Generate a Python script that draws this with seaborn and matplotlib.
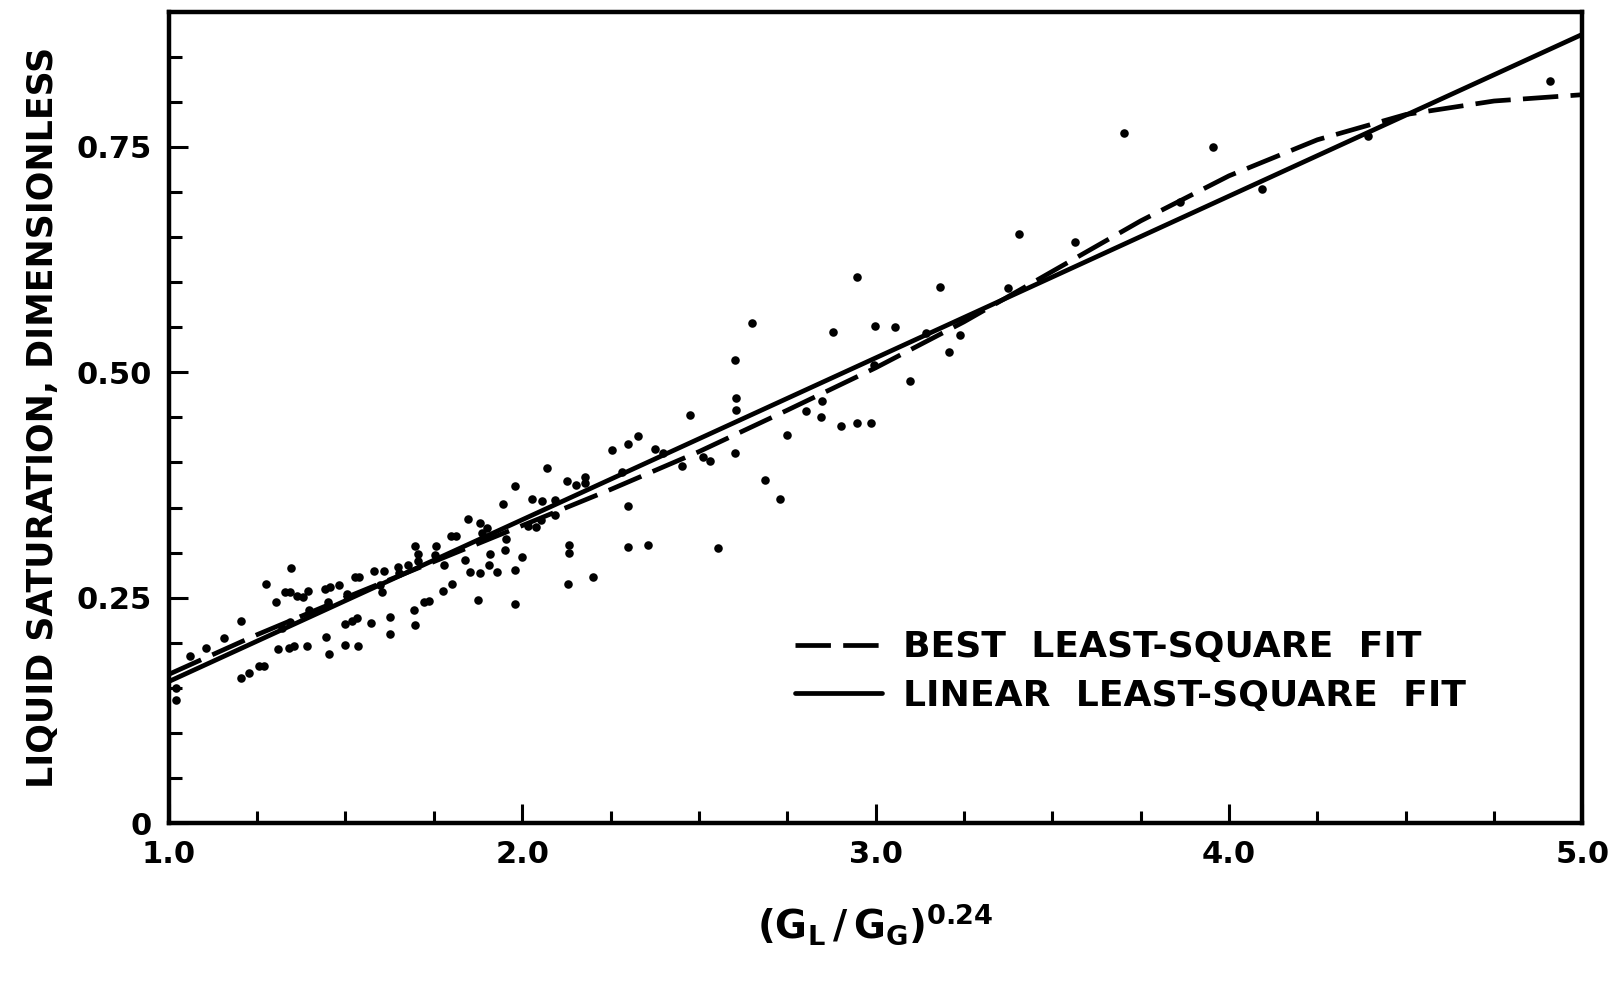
import numpy as np
import pandas as pd
import seaborn as sns
import matplotlib.pyplot as plt

# scattered data
x_points = [1.019, 1.019, 1.059, 1.104, 1.156, 1.203, 1.203, 1.228, 1.255, 1.269,
            1.276, 1.302, 1.309, 1.321, 1.330, 1.340, 1.342, 1.344, 1.346, 1.354,
            1.363, 1.379, 1.390, 1.393, 1.396, 1.443, 1.446, 1.451, 1.453, 1.455,
            1.481, 1.498, 1.498, 1.505, 1.519, 1.528, 1.533, 1.536, 1.538, 1.571,
            1.580, 1.597, 1.602, 1.609, 1.625, 1.626, 1.649, 1.651, 1.677, 1.693,
            1.696, 1.696, 1.705, 1.705, 1.722, 1.736, 1.752, 1.755, 1.776, 1.778,
            1.799, 1.802, 1.814, 1.837, 1.847, 1.851, 1.876, 1.882, 1.882, 1.887,
            1.901, 1.906, 1.909, 1.929, 1.945, 1.950, 1.953, 1.979, 1.979, 1.981,
            2.000, 2.017, 2.028, 2.038, 2.052, 2.057, 2.071, 2.094, 2.094,
            2.127, 2.130, 2.132, 2.132, 2.153, 2.177, 2.177, 2.201, 2.253, 2.283,
            2.299, 2.300, 2.300, 2.328, 2.355, 2.376, 2.399, 2.453, 2.476, 2.511,
            2.531, 2.553, 2.601, 2.602, 2.606, 2.606, 2.651, 2.687, 2.729, 2.748,
            2.804, 2.846, 2.847, 2.880, 2.903, 2.948, 2.948, 2.986, 2.996, 2.998,
            3.054, 3.098, 3.144, 3.182, 3.208, 3.238, 3.376, 3.407, 3.563, 3.704,
            3.861, 3.956, 4.092, 4.392, 4.908]
y_points = [0.150, 0.137, 0.185, 0.194, 0.205, 0.224, 0.161, 0.166, 0.174, 0.174,
            0.265, 0.245, 0.193, 0.216, 0.256, 0.194, 0.256, 0.223, 0.283, 0.196,
            0.252, 0.251, 0.196, 0.257, 0.236, 0.260, 0.206, 0.245, 0.188, 0.262,
            0.264, 0.221, 0.198, 0.254, 0.224, 0.273, 0.227, 0.196, 0.273, 0.222,
            0.280, 0.264, 0.256, 0.280, 0.229, 0.210, 0.284, 0.277, 0.286, 0.236,
            0.307, 0.220, 0.299, 0.291, 0.245, 0.246, 0.297, 0.307, 0.257, 0.286,
            0.318, 0.265, 0.318, 0.292, 0.337, 0.279, 0.248, 0.333, 0.277, 0.322,
            0.327, 0.286, 0.299, 0.279, 0.354, 0.303, 0.315, 0.374, 0.243, 0.281,
            0.295, 0.329, 0.360, 0.328, 0.336, 0.357, 0.394, 0.358, 0.342,
            0.379, 0.265, 0.309, 0.300, 0.375, 0.384, 0.377, 0.273, 0.414, 0.390,
            0.306, 0.420, 0.352, 0.429, 0.308, 0.415, 0.410, 0.396, 0.453, 0.406,
            0.402, 0.305, 0.514, 0.411, 0.472, 0.458, 0.555, 0.381, 0.360, 0.431,
            0.457, 0.451, 0.468, 0.545, 0.441, 0.444, 0.606, 0.444, 0.508, 0.551,
            0.550, 0.490, 0.544, 0.595, 0.523, 0.541, 0.594, 0.654, 0.645, 0.765,
            0.689, 0.750, 0.703, 0.762, 0.823]

# fitted curves
x_best = [1.0, 1.25, 1.5, 1.75, 2.0, 2.25, 2.5, 2.75, 3.0, 3.25, 3.5, 3.75, 4.0, 4.25, 4.5, 4.75, 5.0]
y_best = [0.165, 0.209, 0.250, 0.290, 0.330, 0.370, 0.412, 0.458, 0.505, 0.556, 0.612, 0.668, 0.718, 0.758, 0.786, 0.801, 0.808]
x_linear = [1.0, 5.0]
y_linear = [0.157, 0.875]

x_ticks = [1.0, 2.0, 3.0, 4.0, 5.0]
x_ticklabels = ['1.0', '2.0', '3.0', '4.0', '5.0']
y_ticks = [0, 0.25, 0.50, 0.75]
y_ticklabels = ['0', '0.25', '0.50', '0.75']

df_points = pd.DataFrame({'x': x_points, 'y': y_points})
df_best = pd.DataFrame({'x': x_best, 'y': y_best})
df_linear = pd.DataFrame({'x': x_linear, 'y': y_linear})

sns.set_style('ticks')
plt.rcParams['font.family'] = ['DejaVu Sans']
plt.rcParams['font.weight'] = 'bold'
plt.rcParams['mathtext.fontset'] = 'dejavusans'
plt.rcParams['text.color'] = 'black'
plt.rcParams['axes.labelcolor'] = 'black'
plt.rcParams['xtick.color'] = 'black'
plt.rcParams['ytick.color'] = 'black'

fig, ax = plt.subplots(figsize=(16.23, 9.81), dpi=100)
fig.subplots_adjust(left=0.104, right=0.975, bottom=0.161, top=0.988)

# data points
sns.scatterplot(data=df_points, x='x', y='y', ax=ax, color='black', s=38,
                edgecolor='black', linewidth=0, legend=False)

# fit lines
sns.lineplot(data=df_best, x='x', y='y', ax=ax, color='black', lw=3.4,
             sort=False, estimator=None, label='BEST  LEAST-SQUARE  FIT')
ax.lines[-1].set_linestyle((0, (7.5, 2.6)))
sns.lineplot(data=df_linear, x='x', y='y', ax=ax, color='black', lw=3.4,
             sort=False, estimator=None, label='LINEAR  LEAST-SQUARE  FIT')

ax.set_xlim(1.0, 5.0)
ax.set_ylim(0, 0.9)
ax.set_xticks(x_ticks)
ax.set_xticklabels(x_ticklabels, fontsize=22, fontweight='bold')
ax.set_xticks(np.arange(1.0, 5.0, 0.25), minor=True)
ax.set_yticks(y_ticks)
ax.set_yticklabels(y_ticklabels, fontsize=22, fontweight='bold')
ax.set_yticks(np.arange(0.05, 0.9, 0.05), minor=True)

ax.tick_params(which='both', bottom=True, left=True, top=False, right=False)
ax.tick_params(which='major', direction='in', length=14, width=2.2, pad=12)
ax.tick_params(which='minor', direction='in', length=9, width=2.2)
for side in ax.spines.values():
    side.set_linewidth(3.2)
    side.set_color('black')

ax.set_xlabel(r'$\left(\mathbf{G_L}\,/\,\mathbf{G_G}\right)^{\mathbf{0.24}}$', fontsize=28, labelpad=24)
ax.set_ylabel('LIQUID SATURATION, DIMENSIONLESS', fontsize=25, fontweight='bold', labelpad=12)

leg = ax.legend(loc='lower left', bbox_to_anchor=(0.425, 0.105), frameon=False,
                fontsize=26, handlelength=2.4, handletextpad=0.6, labelspacing=0.4,
                borderpad=0.2)
for t in leg.get_texts():
    t.set_fontweight('bold')

fig.savefig('out.png', dpi=100)
